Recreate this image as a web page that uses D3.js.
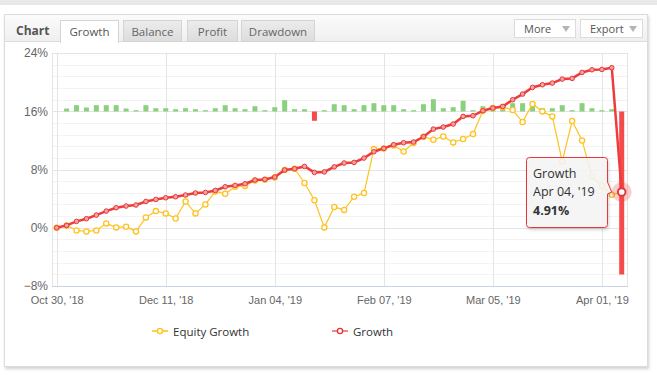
<!DOCTYPE html>
<html>
<head>
<meta charset="utf-8">
<script src="https://cdn.jsdelivr.net/npm/d3@7"></script>
<style>
  body { margin: 0; background: #fff; }
  text { font-family: "Open Sans", sans-serif; }
</style>
</head>
<body>
<div id="chart"></div>
<script>
// Growth (%) per point
const growth = [0, 0.32, 0.87, 1.24, 1.74, 2.29, 2.75, 2.98, 3.12, 3.61,
  3.89, 4.12, 4.26, 4.49, 4.77, 4.85, 5.12, 5.63, 5.81, 6.04,
  6.55, 6.64, 6.96, 7.93, 8.10, 8.42, 7.60, 7.67, 8.36, 8.89,
  8.97, 9.57, 10.44, 10.90, 11.40, 11.68, 11.77, 12.50, 13.55, 13.83,
  14.24, 15.29, 15.38, 16.07, 16.44, 16.66, 17.58, 18.36, 19.27, 19.64,
  19.87, 20.42, 20.51, 21.33, 21.70, 21.74, 21.98, 4.91];

// Equity growth (%) per point
const equity = [0, 0.32, -0.37, -0.5, -0.37, 0.6, 0.05, 0.14, -0.5, 1.42,
  2.29, 1.97, 1.28, 3.61, 1.97, 3.2, 4.99, 4.67, 5.63, 5.75,
  6.5, 6.6, 6.9, 7.93, 8.10, 6.15, 3.77, 0.05, 2.84, 2.45,
  4.26, 4.77, 10.8, 10.9, 11.3, 10.48, 11.63, 12.5, 12.09, 12.54,
  11.72, 12.18, 12.87, 16.07, 16.44, 16.6, 16.17, 14.52, 17.0, 15.98,
  15.29, 9.11, 14.66, 11.99, 7.05, 5.77, 4.53, 4.91];

// Profit per period (own hidden axis)
const profit = [null, 30, 63, 40, 63, 63, 63, 30, 13, 63,
  33, 33, 23, 33, 23, 13, 33, 63, 33, 23,
  53, 13, 43, 113, 23, 23, -93, 13, 73, 63,
  23, 63, 83, 63, 63, 23, 13, 73, 123, 33,
  43, 107, 13, 53, 53, 50, 83, 83, 83, 33,
  33, 63, 13, 83, 33, 13, 23, -1630];

const tickIndex = [0, 11, 22, 33, 44, 55];
const tickLabels = ["Oct 30, '18", "Dec 11, '18", "Jan 04, '19", "Feb 07, '19", "Mar 05, '19", "Apr 01, '19"];
const yTicks = [-8, 0, 8, 16, 24];
const tabs = ["Growth", "Balance", "Profit", "Drawdown"];
const hoverIndex = 57;
const hoverDate = "Apr 04, '19";

const width = 657, height = 375;
const plot = { left: 52, right: 627, top: 53, bottom: 286 };

const svg = d3.select('#chart').append('svg')
  .attr('width', width).attr('height', height);

const defs = svg.append('defs');
const shadow = defs.append('filter').attr('id', 'shadow')
  .attr('x', '-10%').attr('y', '-10%').attr('width', '120%').attr('height', '130%');
shadow.append('feDropShadow').attr('dx', 1).attr('dy', 2).attr('stdDeviation', 1.5)
  .attr('flood-color', '#000').attr('flood-opacity', 0.18);

const headGrad = defs.append('linearGradient').attr('id', 'headGrad').attr('x2', 0).attr('y2', 1);
headGrad.append('stop').attr('offset', 0).attr('stop-color', '#fbfbfb');
headGrad.append('stop').attr('offset', 1).attr('stop-color', '#efefef');
const tabGrad = defs.append('linearGradient').attr('id', 'tabGrad').attr('x2', 0).attr('y2', 1);
tabGrad.append('stop').attr('offset', 0).attr('stop-color', '#ececec');
tabGrad.append('stop').attr('offset', 1).attr('stop-color', '#dcdcdc');

// Page background strip and panel
svg.append('rect').attr('x', 0).attr('y', 0).attr('width', width).attr('height', 5).attr('fill', '#e9e9e9');
svg.append('rect').attr('x', 4.5).attr('y', 14.5).attr('width', 643).attr('height', 352)
  .attr('fill', '#fff').attr('stroke', '#dcdcdc').attr('filter', 'url(#shadow)');

// Header
svg.append('rect').attr('x', 5).attr('y', 15).attr('width', 642).attr('height', 27).attr('fill', 'url(#headGrad)');
svg.append('line').attr('x1', 5).attr('x2', 647).attr('y1', 41.5).attr('y2', 41.5).attr('stroke', '#dcdcdc');
svg.append('text').attr('x', 16).attr('y', 35).attr('font-size', 12).attr('font-weight', 'bold')
  .attr('fill', '#555').text('Chart');

const tabX = [60, 123, 187, 241];
const tabW = [58, 58, 50, 73];
tabs.forEach((t, i) => {
  const active = i === 0;
  svg.append('rect').attr('x', tabX[i] + 0.5).attr('y', 20.5).attr('width', tabW[i]).attr('height', active ? 22 : 21)
    .attr('fill', active ? '#fff' : 'url(#tabGrad)').attr('stroke', '#d4d4d4');
  if (active) {
    svg.append('rect').attr('x', tabX[i] + 1).attr('y', 40).attr('width', tabW[i] - 1).attr('height', 3).attr('fill', '#fff');
  }
  svg.append('text').attr('x', tabX[i] + tabW[i] / 2 + 0.5).attr('y', 35.5).attr('text-anchor', 'middle')
    .attr('font-size', 11.5).attr('fill', active ? '#555' : '#666').text(t);
});

// More / Export buttons
[["More", 514, 61], ["Export", 580, 62]].forEach(([label, x, w]) => {
  svg.append('rect').attr('x', x + 0.5).attr('y', 19.5).attr('width', w).attr('height', 18)
    .attr('fill', '#fff').attr('stroke', '#dcdcdc');
  svg.append('text').attr('x', x + 10).attr('y', 32.5).attr('font-size', 11).attr('fill', '#555').text(label);
  const tx = x + w - 9;
  svg.append('path').attr('d', `M${tx - 4},26 L${tx + 4},26 L${tx},32 Z`).attr('fill', '#b5b5b5');
});

// Scales
const x = d3.scaleLinear().domain([0, growth.length - 1]).range([56.7, 621.7]);
const y = d3.scaleLinear().domain([-8, 24]).range([plot.bottom, plot.top]);
const yBar = d3.scaleLinear().domain([-1745, 585]).range([plot.bottom, plot.top]);

const g = svg.append('g');

// Minor horizontal grid
const minor = d3.range(-8, 24.01, 1.6).filter(v => Math.abs(v / 8 - Math.round(v / 8)) > 0.01);
g.selectAll('.minor').data(minor).enter().append('line')
  .attr('x1', plot.left).attr('x2', plot.right)
  .attr('y1', d => Math.round(y(d)) + 0.5).attr('y2', d => Math.round(y(d)) + 0.5)
  .attr('stroke', '#f3f3f3');

// Major horizontal grid
g.selectAll('.major').data(yTicks).enter().append('line')
  .attr('x1', plot.left).attr('x2', plot.right)
  .attr('y1', d => Math.round(y(d)) + 0.5).attr('y2', d => Math.round(y(d)) + 0.5)
  .attr('stroke', '#e4e4e4');

// Vertical grid
g.selectAll('.vgrid').data(tickIndex).enter().append('line')
  .attr('x1', d => Math.round(x(d)) + 0.5).attr('x2', d => Math.round(x(d)) + 0.5)
  .attr('y1', plot.top).attr('y2', plot.bottom)
  .attr('stroke', '#e4e4e4');

// Plot frame
g.append('rect').attr('x', plot.left + 0.5).attr('y', plot.top + 0.5)
  .attr('width', plot.right - plot.left).attr('height', plot.bottom - plot.top)
  .attr('fill', 'none').attr('stroke', '#e4e4e4');
g.append('line').attr('x1', plot.left).attr('x2', plot.right + 1)
  .attr('y1', plot.bottom + 0.5).attr('y2', plot.bottom + 0.5).attr('stroke', '#c6d4e4');

// Y axis labels
const yAxis = d3.axisLeft(y).tickValues(yTicks).tickSize(0).tickPadding(4)
  .tickFormat(d => (d < 0 ? '\u2212' + Math.abs(d) : d) + '%');
svg.append('g').attr('transform', `translate(${plot.left},0)`).call(yAxis)
  .call(s => s.select('.domain').remove())
  .selectAll('text').attr('font-size', 12).attr('fill', '#666')
  .style('font-family', '"Liberation Sans", Arial, sans-serif');

// X axis labels
const xAxis = d3.axisBottom(x).tickValues(tickIndex).tickSize(0).tickPadding(10)
  .tickFormat((d, i) => tickLabels[i]);
svg.append('g').attr('transform', `translate(0,${plot.bottom})`).call(xAxis)
  .call(s => s.select('.domain').remove())
  .selectAll('text').attr('font-size', 11).attr('fill', '#666')
  .style('font-family', '"Liberation Sans", Arial, sans-serif');

// Profit bars
const barData = profit.map((v, i) => ({ i, v })).filter(d => d.v !== null);
g.selectAll('.bar').data(barData).enter().append('rect')
  .attr('x', d => x(d.i) - 2.5).attr('width', 5)
  .attr('y', d => Math.min(yBar(d.v), yBar(0)))
  .attr('height', d => Math.abs(yBar(d.v) - yBar(0)))
  .attr('fill', d => d.v < 0 ? '#f64b4b' : '#8ad07f');

// Equity growth line
const line = d3.line().x((d, i) => x(i)).y(d => y(d));
g.append('path').datum(equity).attr('d', line)
  .attr('fill', 'none').attr('stroke', '#ffc21f').attr('stroke-width', 1.2);
g.selectAll('.eq').data(equity).enter().append('circle')
  .attr('cx', (d, i) => x(i)).attr('cy', d => y(d)).attr('r', 2.6)
  .attr('fill', '#fff').attr('stroke', '#ffc21f').attr('stroke-width', 1.3);

// Growth line
g.append('path').datum(growth).attr('d', line)
  .attr('fill', 'none').attr('stroke', '#ee3c3c').attr('stroke-width', 2.5);
g.selectAll('.gr').data(growth).enter().append('circle')
  .attr('cx', (d, i) => x(i)).attr('cy', d => y(d)).attr('r', 2.3)
  .attr('fill', '#f7a0a0').attr('stroke', '#e63838').attr('stroke-width', 1);

// Hovered point
const hx = x(hoverIndex), hy = y(growth[hoverIndex]);
g.append('circle').attr('cx', hx).attr('cy', hy).attr('r', 10).attr('fill', 'rgba(238,60,60,0.25)');
g.append('circle').attr('cx', hx).attr('cy', hy).attr('r', 3.8)
  .attr('fill', '#fff').attr('stroke', '#e63838').attr('stroke-width', 2);

// Tooltip
const tt = { x: 526.5, y: 157.5, w: 81, h: 70 };
const r = 3;
const tipPath = `M${tt.x + r},${tt.y} H${tt.x + tt.w - r} Q${tt.x + tt.w},${tt.y} ${tt.x + tt.w},${tt.y + r}
  V${hy - 10} L${hx - 10},${hy} L${tt.x + tt.w},${hy + 2}
  V${tt.y + tt.h - r} Q${tt.x + tt.w},${tt.y + tt.h} ${tt.x + tt.w - r},${tt.y + tt.h}
  H${tt.x + r} Q${tt.x},${tt.y + tt.h} ${tt.x},${tt.y + tt.h - r} V${tt.y + r} Q${tt.x},${tt.y} ${tt.x + r},${tt.y} Z`;
svg.append('path').attr('d', tipPath).attr('fill', 'rgba(247,247,247,0.85)')
  .attr('stroke', '#e63838').attr('stroke-width', 1).attr('filter', 'url(#shadow)');
const tipText = svg.append('g').attr('font-size', 12.5).attr('fill', '#333');
tipText.append('text').attr('x', 533).attr('y', 178).text('Growth');
tipText.append('text').attr('x', 533).attr('y', 196).text(hoverDate);
tipText.append('text').attr('x', 533).attr('y', 215).attr('font-weight', 'bold')
  .text(growth[hoverIndex].toFixed(2) + '%');

// Legend
const legend = svg.append('g');
const legendItems = [
  { label: 'Equity Growth', x: 152, color: '#ffc21f', lineColor: '#ffd24a', fill: '#fff' },
  { label: 'Growth', x: 332, color: '#e63838', lineColor: '#f38a8a', fill: '#fff' }
];
legendItems.forEach(d => {
  legend.append('line').attr('x1', d.x).attr('x2', d.x + 16).attr('y1', 331).attr('y2', 331)
    .attr('stroke', d.lineColor).attr('stroke-width', 2);
  legend.append('circle').attr('cx', d.x + 8).attr('cy', 331).attr('r', 2.6)
    .attr('fill', d.fill).attr('stroke', d.color).attr('stroke-width', 1.4);
  legend.append('text').attr('x', d.x + 21).attr('y', 335.5).attr('font-size', 11.5)
    .attr('fill', '#333').text(d.label);
});
</script>
</body>
</html>
